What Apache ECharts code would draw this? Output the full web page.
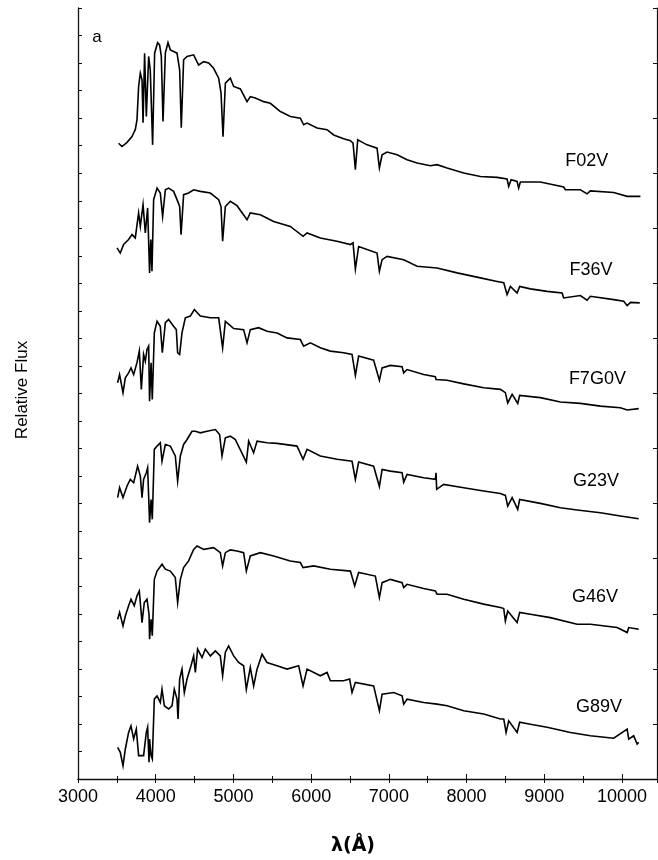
<!DOCTYPE html>
<html>
<head>
<meta charset="utf-8">
<script src="https://cdn.jsdelivr.net/npm/echarts@6/dist/echarts.min.js"></script>
<style>
  html,body{margin:0;padding:0;background:#fff;}
  #main{width:658px;height:860px;}
</style>
</head>
<body>
<div id="main"></div>
<script>
// spectra: [wavelength (A), relative flux]
var starNames = ['F02V', 'F36V', 'F7G0V', 'G23V', 'G46V', 'G89V'];
var starOffsets = [20, 16, 12, 8, 4, 0];

var specF02V = [
  [3522,3.09],[3566,2.97],[3583,2.92],[3631,3.12],[3695,3.33],[3716,3.46],[3737,3.58],[3759,3.94],
  [3780,5.15],[3802,5.64],[3824,5.39],[3837,3.83],[3857,6.36],[3879,4.06],[3909,6.24],[3930,5.75],
  [3960,3.03],[3986,6.36],[4024,6.74],[4050,6.66],[4072,6.24],[4094,3.88],[4124,6.37],[4158,6.74],
  [4188,6.48],[4230,6.42],[4274,6.36],[4308,5.75],[4329,3.65],[4359,6.12],[4403,6.24],[4488,6.30],
  [4552,5.93],[4617,6.05],[4681,6.00],[4745,5.81],[4810,5.45],[4840,4.92],[4866,3.33],[4896,5.27],
  [4960,5.45],[5003,5.15],[5089,5.06],[5175,4.60],[5217,4.78],[5282,4.73],[5389,4.60],[5475,4.54],
  [5604,4.24],[5733,4.06],[5861,4.00],[5903,3.76],[5947,3.82],[6076,3.64],[6205,3.58],[6290,3.39],
  [6418,3.25],[6505,3.18],[6539,3.09],[6569,2.13],[6599,3.21],[6720,3.03],[6848,2.91],[6878,2.19],
  [6913,2.67],[6977,2.77],[7106,2.67],[7234,2.49],[7363,2.37],[7534,2.27],[7620,2.31],[7749,2.19],
  [7963,2.01],[8178,1.88],[8393,1.85],[8521,1.79],[8542,1.52],[8573,1.76],[8650,1.70],[8670,1.46],
  [8692,1.68],[8949,1.68],[9249,1.50],[9271,1.40],[9464,1.40],[9550,1.25],[9593,1.36],[9893,1.30],
  [10066,1.16],[10237,1.16]
];
var specF36V = [
  [3502,3.29],[3544,3.10],[3587,3.41],[3651,3.59],[3695,3.77],[3737,3.65],[3780,4.56],[3802,4.07],
  [3837,4.86],[3866,3.83],[3896,4.74],[3921,2.38],[3937,3.59],[3952,2.44],[3973,5.04],[4017,5.46],
  [4059,5.28],[4089,4.43],[4124,5.40],[4166,5.46],[4230,5.34],[4274,5.04],[4308,4.79],[4326,3.77],
  [4359,5.22],[4423,5.28],[4488,5.40],[4574,5.34],[4703,5.28],[4810,5.04],[4840,4.79],[4861,3.53],
  [4896,4.79],[4960,4.98],[5046,4.82],[5175,4.31],[5217,4.56],[5346,4.49],[5517,4.25],[5732,4.07],
  [5896,3.71],[5947,3.83],[6118,3.65],[6333,3.53],[6505,3.41],[6539,3.47],[6569,2.52],[6611,3.34],
  [6848,3.10],[6878,2.44],[6913,2.86],[6977,2.98],[7191,2.86],[7363,2.62],[7620,2.56],[7878,2.38],
  [8178,2.20],[8393,2.07],[8478,2.02],[8521,1.59],[8564,1.89],[8650,1.65],[8683,1.89],[8821,1.80],
  [9036,1.71],[9229,1.65],[9249,1.47],[9464,1.56],[9550,1.39],[9593,1.53],[9893,1.41],[10022,1.35],
  [10066,1.19],[10109,1.31],[10228,1.29]
];
var specF7G0V = [
  [3510,2.39],[3535,2.69],[3579,2.03],[3609,2.57],[3651,2.75],[3682,2.93],[3716,2.69],[3759,3.12],
  [3789,3.54],[3815,2.15],[3844,3.42],[3866,3.17],[3888,3.60],[3909,3.72],[3921,1.72],[3940,3.12],
  [3956,1.78],[3982,4.20],[4017,4.62],[4059,4.44],[4085,3.48],[4124,4.57],[4166,4.69],[4230,4.44],
  [4265,4.32],[4282,3.48],[4308,3.42],[4338,4.20],[4381,4.75],[4445,4.81],[4497,5.05],[4574,4.81],
  [4703,4.75],[4810,4.75],[4861,3.66],[4896,4.62],[5003,4.36],[5131,4.32],[5175,3.84],[5217,4.32],
  [5324,4.39],[5432,4.26],[5561,4.20],[5690,4.02],[5861,3.96],[5903,3.72],[5990,3.84],[6118,3.66],
  [6247,3.54],[6418,3.48],[6526,3.42],[6569,2.66],[6611,3.36],[6804,3.21],[6878,2.48],[6913,2.93],
  [7019,3.02],[7170,2.97],[7191,2.75],[7234,2.87],[7448,2.69],[7598,2.61],[7607,2.51],[7749,2.48],
  [7963,2.35],[8220,2.21],[8435,2.15],[8499,2.03],[8529,1.66],[8586,1.97],[8658,1.64],[8683,1.93],
  [8949,1.85],[9207,1.69],[9464,1.64],[9722,1.54],[9979,1.48],[10066,1.40],[10215,1.45]
];
var specG23V = [
  [3510,2.22],[3535,2.58],[3579,2.22],[3631,2.64],[3673,2.88],[3716,2.76],[3767,3.36],[3802,3.00],
  [3824,2.22],[3844,2.88],[3879,3.12],[3896,3.30],[3921,1.31],[3940,2.15],[3956,1.43],[3982,3.97],
  [4017,4.09],[4059,4.21],[4081,3.54],[4124,4.15],[4188,4.09],[4252,3.73],[4282,2.82],[4317,3.73],
  [4359,4.15],[4403,4.33],[4467,4.63],[4510,4.63],[4574,4.57],[4660,4.63],[4767,4.69],[4822,4.51],
  [4853,3.73],[4896,4.39],[4960,4.45],[5024,4.33],[5166,3.51],[5196,4.27],[5260,3.85],[5304,4.27],
  [5432,4.21],[5561,4.19],[5818,4.09],[5896,3.61],[5947,3.97],[6118,3.73],[6333,3.61],[6526,3.54],
  [6569,2.88],[6611,3.51],[6804,3.36],[6878,2.62],[6913,3.24],[7019,3.18],[7170,3.12],[7191,2.78],
  [7234,3.06],[7448,2.94],[7598,2.88],[7607,3.12],[7615,2.52],[7705,2.70],[7963,2.58],[8220,2.46],
  [8435,2.37],[8499,2.30],[8529,1.91],[8586,2.22],[8658,1.79],[8683,2.15],[8949,2.01],[9207,1.85],
  [9422,1.77],[9722,1.67],[9979,1.55],[10215,1.45]
];
var specG46V = [
  [3510,1.80],[3535,2.05],[3579,1.56],[3609,1.92],[3651,2.29],[3682,2.53],[3724,2.29],[3759,2.65],
  [3789,2.83],[3824,1.68],[3853,2.41],[3888,2.53],[3914,1.98],[3921,1.08],[3940,1.80],[3956,1.20],
  [3982,3.25],[4017,3.55],[4081,3.80],[4124,3.62],[4188,3.55],[4252,3.32],[4282,2.41],[4317,3.25],
  [4359,3.68],[4423,3.92],[4488,4.34],[4532,4.46],[4617,4.34],[4745,4.40],[4831,4.22],[4861,3.74],
  [4896,4.22],[4960,4.32],[5046,4.28],[5131,4.22],[5166,3.55],[5217,4.10],[5346,4.22],[5517,4.10],
  [5732,3.92],[5861,3.86],[5896,3.68],[6032,3.74],[6247,3.62],[6505,3.55],[6526,3.62],[6560,3.01],
  [6611,3.50],[6826,3.37],[6878,2.59],[6913,3.13],[7019,3.25],[7170,3.13],[7191,2.95],[7234,3.07],
  [7448,2.92],[7598,2.83],[7620,2.71],[7749,2.71],[7963,2.53],[8220,2.35],[8435,2.23],[8478,2.19],
  [8499,1.74],[8529,2.10],[8650,1.68],[8683,2.05],[8821,1.98],[9078,1.86],[9422,1.62],[9593,1.62],
  [9937,1.50],[10066,1.32],[10086,1.50],[10215,1.44]
];
var specG89V = [
  [3510,1.15],[3544,0.97],[3579,0.48],[3609,1.09],[3651,1.69],[3682,1.93],[3716,1.45],[3750,1.81],
  [3780,0.85],[3802,0.79],[3844,0.85],[3879,1.69],[3896,1.88],[3914,0.61],[3921,1.45],[3940,0.85],
  [3956,0.73],[3982,2.90],[4017,3.02],[4059,2.78],[4081,3.26],[4111,2.66],[4166,2.54],[4210,2.66],
  [4239,3.26],[4274,2.90],[4287,2.18],[4308,3.63],[4338,3.99],[4368,3.14],[4403,3.63],[4454,4.11],
  [4488,4.47],[4510,3.87],[4539,4.72],[4596,4.41],[4638,4.72],[4703,4.47],[4767,4.65],[4831,4.47],
  [4861,3.75],[4896,4.60],[4938,4.83],[5003,4.47],[5067,4.23],[5131,4.11],[5166,3.26],[5217,4.05],
  [5260,3.38],[5304,3.99],[5368,4.53],[5432,4.23],[5561,4.11],[5690,3.99],[5839,4.11],[5896,3.38],
  [5947,3.99],[6118,3.75],[6205,3.87],[6247,3.57],[6418,3.57],[6495,3.63],[6526,3.14],[6569,3.51],
  [6804,3.38],[6878,2.48],[6913,3.08],[7062,3.14],[7170,3.02],[7191,2.72],[7234,2.90],[7448,2.78],
  [7620,2.72],[7749,2.66],[7963,2.48],[8220,2.36],[8435,2.18],[8478,2.18],[8508,1.69],[8542,2.11],
  [8650,1.69],[8683,2.06],[8821,1.99],[9036,1.88],[9336,1.69],[9593,1.57],[9893,1.48],[10066,1.81],
  [10086,1.45],[10150,1.57],[10194,1.27],[10215,1.33]
];
var starSpectra = [specF02V, specF36V, specF7G0V, specG23V, specG46V, specG89V];

var xTickValues = [3000, 4000, 5000, 6000, 7000, 8000, 9000, 10000];

var StarChart = {
  // where the star names sit, in data units (wavelength, height above the spectrum's offset)
  nameSpots: [[9547, 2.43], [9600, 2.50], [9683, 2.51], [9664, 2.82], [9651, 2.60], [9703, 2.61]],

  buildSeries: function () {
    var series = [];
    for (var i = 0; i < starSpectra.length; i++) {
      var off = starOffsets[i];
      var pts = starSpectra[i].map(function (p) { return [p[0], p[1] + off]; });
      series.push({
        name: starNames[i],
        type: 'line',
        data: pts,
        showSymbol: false,
        symbol: 'none',
        smooth: false,
        lineStyle: { color: '#000', width: 1.6, join: 'miter' },
        silent: true
      });
    }
    var nameData = [];
    for (var j = 0; j < starNames.length; j++) {
      nameData.push({
        value: [StarChart.nameSpots[j][0], StarChart.nameSpots[j][1] + starOffsets[j]],
        name: starNames[j]
      });
    }
    series.push({
      type: 'scatter',
      data: nameData,
      symbolSize: 1,
      silent: true,
      itemStyle: { color: 'rgba(0,0,0,0)', opacity: 1 },
      label: {
        show: true,
        position: 'inside',
        formatter: '{b}',
        color: '#000',
        opacity: 1,
        textBorderWidth: 0,
        fontSize: 18,
        fontFamily: 'Liberation Sans, Arial, sans-serif'
      }
    });
    return series;
  },

  init: function () {
    var chart = echarts.init(document.getElementById('main'), null, { renderer: 'canvas' });
    var axisColor = '#111';
    var option = {
      backgroundColor: '#fff',
      animation: false,
      grid: { left: 78, right: 1, top: 8, bottom: 81, containLabel: false },
      xAxis: [{
        type: 'value',
        position: 'bottom',
        min: 3000,
        max: 10450,
        interval: 1000,
        axisLine: { show: true, lineStyle: { color: axisColor, width: 1.3 } },
        axisTick: { show: true, inside: true, length: 5, lineStyle: { color: axisColor } },
        minorTick: { show: true, splitNumber: 2, length: 3, lineStyle: { color: axisColor } },
        splitLine: { show: false },
        axisLabel: {
          show: true,
          showMaxLabel: false,
          margin: 9,
          color: '#000',
          fontSize: 18,
          fontFamily: 'Liberation Sans, Arial, sans-serif',
          formatter: function (v) { return xTickValues.indexOf(v) >= 0 ? String(v) : ''; }
        }
      }, {
        type: 'value',
        position: 'top',
        min: 3000,
        max: 10450,
        interval: 500,
        axisLine: { show: true, lineStyle: { color: axisColor, width: 1.2 } },
        axisTick: { show: true, inside: true, length: 4, lineStyle: { color: axisColor } },
        axisLabel: { show: false },
        splitLine: { show: false }
      }],
      yAxis: [{
        type: 'value',
        position: 'left',
        min: 0,
        max: 28,
        interval: 1,
        axisLine: { show: true, lineStyle: { color: axisColor, width: 1.3 } },
        axisTick: { show: true, inside: true, length: 4, lineStyle: { color: axisColor } },
        axisLabel: { show: false },
        splitLine: { show: false }
      }, {
        type: 'value',
        position: 'right',
        min: 0,
        max: 28,
        interval: 2,
        axisLine: { show: true, lineStyle: { color: axisColor, width: 1.2 } },
        axisTick: { show: true, inside: true, length: 4, lineStyle: { color: axisColor } },
        axisLabel: { show: false },
        splitLine: { show: false }
      }],
      graphic: [{
        type: 'text',
        x: 97,
        y: 37,
        style: {
          text: 'a', fill: '#000', fontSize: 17,
          fontFamily: 'Liberation Sans, Arial, sans-serif',
          align: 'center', verticalAlign: 'middle'
        }
      }, {
        type: 'text',
        x: 22,
        y: 390,
        rotation: Math.PI / 2,
        style: {
          text: 'Relative Flux', fill: '#000', fontSize: 17,
          fontFamily: 'Liberation Sans, Arial, sans-serif',
          align: 'center', verticalAlign: 'middle'
        }
      }, {
        type: 'text',
        x: 353,
        y: 846,
        style: {
          text: 'λ(Å)', fill: '#000', fontSize: 19, fontWeight: 'bold',
          fontFamily: 'DejaVu Sans, sans-serif',
          align: 'center', verticalAlign: 'middle'
        }
      }],
      series: StarChart.buildSeries()
    };
    chart.setOption(option, true);
  }
};

StarChart.init();
</script>
</body>
</html>
